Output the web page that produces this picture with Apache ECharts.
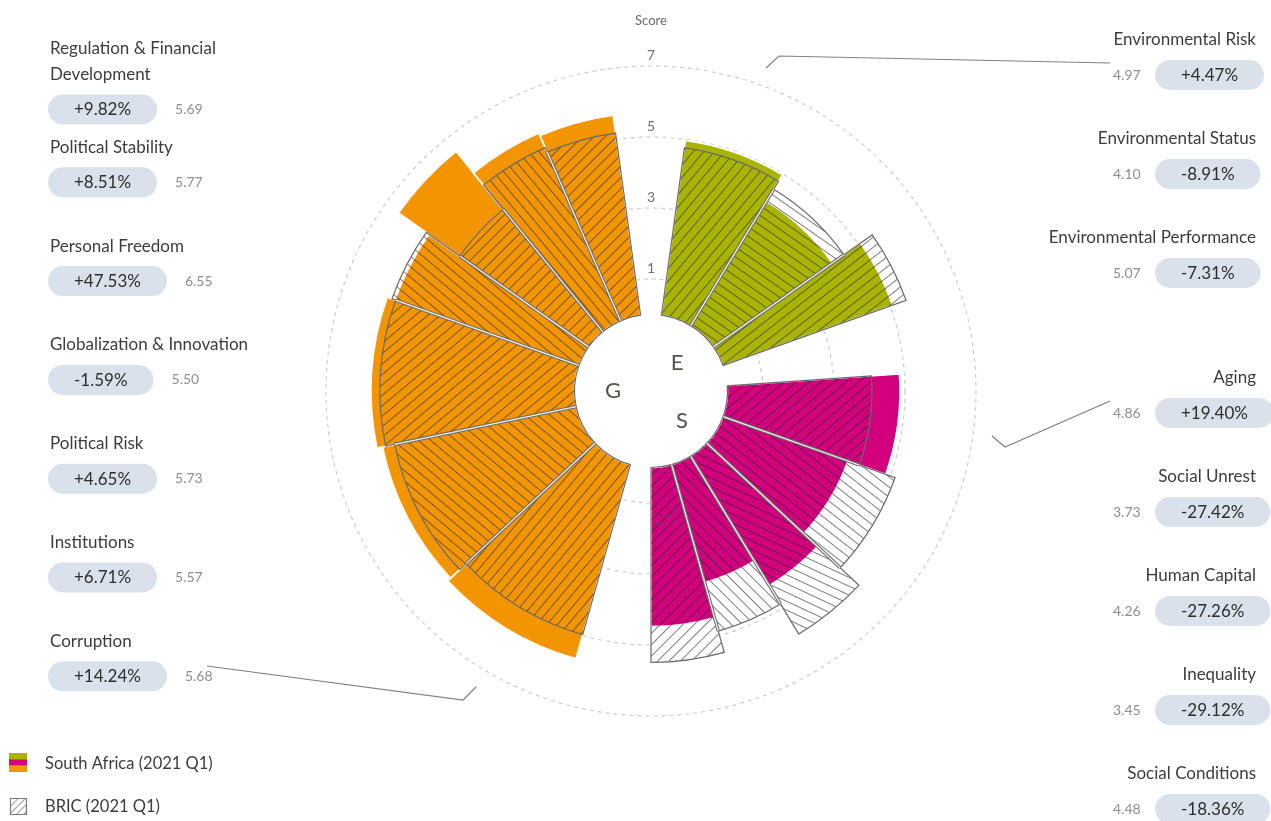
<!DOCTYPE html>
<html>
<head>
<meta charset="utf-8">
<title>ESG Scores – South Africa vs BRIC</title>
<script src="https://cdn.jsdelivr.net/npm/echarts@6.0.0/dist/echarts.min.js"></script>
<style>
  html, body { margin: 0; padding: 0; background: #ffffff; }
  #chart { width: 1271px; height: 821px; }
</style>
</head>
<body>
<div id="chart"></div>
<script>
// ---------- data ----------
const sectionKeys = ['E', 'S', 'G'];
const seriesNames = ['South Africa (2021 Q1)', 'BRIC (2021 Q1)'];

const envNames   = ['Environmental Risk', 'Environmental Status', 'Environmental Performance'];
const envWeights = [3, 3, 2];
const envScores  = [4.97, 4.10, 5.07];
const envBric    = [4.76, 4.50, 5.47];
const envChange  = [4.47, -8.91, -7.31];

const socNames   = ['Aging', 'Social Unrest', 'Human Capital', 'Inequality', 'Social Conditions'];
const socWeights = [3, 3, 2, 2, 2];
const socScores  = [4.86, 3.73, 4.26, 3.45, 4.48];
const socBric    = [4.07, 5.14, 5.86, 4.87, 5.49];
const socChange  = [19.40, -27.42, -27.26, -29.12, -18.36];

const govNames   = ['Regulation & Financial Development', 'Political Stability', 'Personal Freedom',
                    'Globalization & Innovation', 'Political Risk', 'Institutions', 'Corruption'];
const govWeights = [2, 2, 2, 2, 4, 4, 4];
const govScores  = [5.69, 5.77, 6.55, 5.50, 5.73, 5.57, 5.68];
const govBric    = [5.18, 5.32, 4.44, 5.59, 5.48, 5.22, 4.97];
const govChange  = [9.82, 8.51, 47.53, -1.59, 4.65, 6.71, 14.24];

const scoreMax = 7;
const radiusTicks = [1, 3, 5, 7];

// ---------- styles ----------
const FONT = 'Lato, "Noto Sans", sans-serif';
const sectionColors = ['#a9b400', '#d3007d', '#f39500'];
const envHatch = [50, -35, 38];
const socHatch = [40, -38, -25, -45, 45];
const govHatch = [45, -50, 45, -40, 40, -40, 50];
const TITLE_COLOR = '#3c3c3c';
const VALUE_COLOR = '#8e8e8e';
const BADGE_BG = '#d9e1ea';
const BRIC_STROKE = '#6a6a6a';
const RING_COLOR = '#cdcdcd';
const GAP_UNITS = 2;   // empty slot between E, S and G

// ---------- angular layout (weights -> slots) ----------
const sections = [
  { names: envNames, weights: envWeights, scores: envScores, bric: envBric, hatch: envHatch, reversed: false },
  { names: socNames, weights: socWeights, scores: socScores, bric: socBric, hatch: socHatch, reversed: false },
  { names: govNames, weights: govWeights, scores: govScores, bric: govBric, hatch: govHatch, reversed: true }
];

// row: [startSlot, endSlot, score, bric, sectionIndex, previousBric, hatchAngle]
const sectorRows = [];
let cursor = GAP_UNITS / 2;
sections.forEach((sec, si) => {
  const order = sec.names.map((_, i) => i);
  if (sec.reversed) order.reverse();
  let prev = 0;
  order.forEach(i => {
    const start = cursor;
    const end = cursor + sec.weights[i];
    sectorRows.push([start, end, sec.scores[i], sec.bric[i], si, prev, sec.hatch[i]]);
    prev = sec.bric[i];
    cursor = end;
  });
  cursor += GAP_UNITS;
});
const totalSlots = cursor - GAP_UNITS / 2;

// ---------- hatch patterns ----------
function makeTile(size, color) {
  const c = document.createElement('canvas');
  c.width = size; c.height = size;
  const g = c.getContext('2d');
  g.fillStyle = color;
  g.fillRect(0, Math.floor(size / 2), size, 1);
  return c;
}
const barTile = makeTile(8, 'rgba(45,45,45,0.62)');
const legendTile = makeTile(5, 'rgba(120,120,120,0.75)');
function hatchFill(deg, tile) {
  return { image: tile, repeat: 'repeat', rotation: -deg * Math.PI / 180 };
}

// ---------- helpers ----------
function sectorShape(params, api, value) {
  const a = api.coord([0, api.value(0)]);
  const b = api.coord([0, api.value(1)]);
  const t = api.coord([value, api.value(0)]);
  return {
    cx: params.coordSys.cx, cy: params.coordSys.cy,
    r0: a[2], r: t[2],
    startAngle: -a[3], endAngle: -b[3], clockwise: true
  };
}

function fmtChange(v) {
  return (v >= 0 ? '+' : '-') + Math.abs(v).toFixed(2) + '%';
}

const measureCtx = document.createElement('canvas').getContext('2d');
function textWidth(t, size) {
  measureCtx.font = size + 'px ' + FONT;
  return measureCtx.measureText(t).width;
}

function badgeText(x, y, change, score, side) {
  const b = '{b|' + fmtChange(change) + '}';
  const v = '{v|' + score.toFixed(2) + '}';
  const valueStyle = side === 'left'
    ? { fontSize: 14, fontFamily: FONT, fill: VALUE_COLOR, padding: [0, 0, 0, 18], verticalAlign: 'middle' }
    : { fontSize: 14, fontFamily: FONT, fill: VALUE_COLOR, width: 42, align: 'left', verticalAlign: 'middle' };
  return {
    type: 'text', x: x, y: y, z: 10,
    style: {
      text: side === 'left' ? b + v : v + b,
      align: 'left', verticalAlign: 'middle',
      rich: {
        b: { backgroundColor: BADGE_BG, borderRadius: 16.5, padding: [7, 26, 6, 26],
             fontSize: 17, fontFamily: FONT, fill: '#2e2e2e', lineHeight: 20, verticalAlign: 'middle' },
        v: valueStyle
      }
    }
  };
}

// ---------- side labels ----------
const graphics = [];

const LEFT = { titleX: 50, badgeX: 48, firstY: 48.5, step: 98.8, wrap: 215, lineH: 26, badgeDy: 35 };
govNames.forEach((name, i) => {
  const y = LEFT.firstY + LEFT.step * i;
  const lines = textWidth(name, 17) > LEFT.wrap ? 2 : 1;
  graphics.push({
    type: 'text', x: LEFT.titleX, y: y - LEFT.lineH / 2, z: 10,
    style: { text: name, width: LEFT.wrap, overflow: 'break', lineHeight: LEFT.lineH,
             fontSize: 17, fontFamily: FONT, fill: TITLE_COLOR, align: 'left', verticalAlign: 'top' }
  });
  graphics.push(badgeText(LEFT.badgeX, y + LEFT.badgeDy + LEFT.lineH * (lines - 1), govChange[i], govScores[i], 'left'));
});

const RIGHT = { titleX: 1256, valueX: 1113, step: 99, badgeDy: 35 };
[[envNames, envChange, envScores, 40], [socNames, socChange, socScores, 378]].forEach(([names, changes, scores, y0]) => {
  names.forEach((name, i) => {
    const y = y0 + RIGHT.step * i;
    graphics.push({
      type: 'text', x: RIGHT.titleX, y: y, z: 10,
      style: { text: name, fontSize: 17, fontFamily: FONT, fill: TITLE_COLOR, align: 'right', verticalAlign: 'middle' }
    });
    graphics.push(badgeText(RIGHT.valueX, y + RIGHT.badgeDy, changes[i], scores[i], 'right'));
  });
});

// callout lines from each label column to its section
[
  [[1110, 63], [779, 56], [766, 68]],
  [[1110, 401], [1005, 447], [992, 436]],
  [[207, 666], [463, 700], [476, 687]]
].forEach(pts => {
  graphics.push({ type: 'polyline', z: 5, shape: { points: pts },
                  style: { stroke: '#808080', lineWidth: 1.2, fill: null } });
});

// section letters in the hub
[['E', 677, 363], ['S', 682, 421], ['G', 613, 391]].forEach(([t, x, y]) => {
  graphics.push({ type: 'text', x: x, y: y, z: 10,
                  style: { text: t, fontSize: 22, fontFamily: FONT, fill: '#55504a', align: 'center', verticalAlign: 'middle' } });
});

// legend
graphics.push({ type: 'rect', z: 10, shape: { x: 9, y: 753, width: 18, height: 6.4 }, style: { fill: sectionColors[0] } });
graphics.push({ type: 'rect', z: 10, shape: { x: 9, y: 759.3, width: 18, height: 6.4 }, style: { fill: sectionColors[1] } });
graphics.push({ type: 'rect', z: 10, shape: { x: 9, y: 765.6, width: 18, height: 6.4 }, style: { fill: sectionColors[2] } });
graphics.push({ type: 'text', x: 45, y: 764, z: 10,
                style: { text: seriesNames[0], fontSize: 16.5, fontFamily: FONT, fill: TITLE_COLOR, align: 'left', verticalAlign: 'middle' } });
graphics.push({ type: 'rect', z: 10, shape: { x: 10.5, y: 798.5, width: 16, height: 16 },
                style: { fill: hatchFill(45, legendTile), stroke: '#7a7a7a', lineWidth: 1.2 } });
graphics.push({ type: 'text', x: 45, y: 807, z: 10,
                style: { text: seriesNames[1], fontSize: 16.5, fontFamily: FONT, fill: TITLE_COLOR, align: 'left', verticalAlign: 'middle' } });

// ---------- chart ----------
const ringColors = [0, 1, 2, 3, 4, 5, 6, 7].map(v => radiusTicks.includes(v) ? RING_COLOR : 'rgba(0,0,0,0)');

const chart = echarts.init(document.getElementById('chart'), null, { renderer: 'canvas' });
chart.setOption({
  animation: false,
  backgroundColor: '#ffffff',
  polar: { center: [651, 391], radius: [76.5, 325] },
  angleAxis: { type: 'value', min: 0, max: totalSlots, startAngle: 90, clockwise: true, show: false },
  radiusAxis: {
    type: 'value', min: 0, max: scoreMax, interval: 1,
    axisLine: { show: false }, axisTick: { show: false },
    axisLabel: {
      formatter: v => radiusTicks.includes(v) ? String(v) : '',
      color: '#707070', fontSize: 14, fontFamily: FONT,
      align: 'center', verticalAlign: 'bottom', margin: 0, padding: [0, 0, 4, 0],
      showMinLabel: false, showMaxLabel: true
    },
    splitLine: { show: true, lineStyle: { type: [4, 4], width: 1.2, color: ringColors } },
    name: 'Score', nameLocation: 'end', nameGap: 45,
    nameTextStyle: { color: '#6a6a6a', fontSize: 13, fontFamily: FONT, align: 'center', verticalAlign: 'middle' }
  },
  series: [
    {
      type: 'custom', name: seriesNames[0], coordinateSystem: 'polar', clip: false,
      data: sectorRows, encode: { radius: 2, angle: 0 },
      renderItem: function (params, api) {
        const sa = api.value(2), bric = api.value(3);
        return {
          type: 'group',
          children: [
            { type: 'sector', shape: sectorShape(params, api, Math.max(sa, bric)),
              style: { fill: '#ffffff', stroke: '#ffffff', lineWidth: 1.6 } },
            { type: 'sector', shape: sectorShape(params, api, sa),
              style: { fill: sectionColors[api.value(4)], stroke: '#ffffff', lineWidth: 1.6 } }
          ]
        };
      }
    },
    {
      type: 'custom', name: seriesNames[1], coordinateSystem: 'polar', clip: false,
      data: sectorRows, encode: { radius: 3, angle: 0 },
      renderItem: function (params, api) {
        const bric = api.value(3), prev = api.value(5);
        const children = [
          { type: 'sector', shape: sectorShape(params, api, bric),
            style: { fill: hatchFill(api.value(6), barTile), stroke: BRIC_STROKE, lineWidth: 1.2 } }
        ];
        if (prev > 0) {
          const p0 = api.coord([0, api.value(0)]);
          const p1 = api.coord([Math.min(prev, bric), api.value(0)]);
          const seg = { x1: p0[0], y1: p0[1], x2: p1[0], y2: p1[1] };
          children.push({ type: 'line', shape: seg, style: { stroke: BRIC_STROKE, lineWidth: 3.4 } });
          children.push({ type: 'line', shape: seg, style: { stroke: '#f0f0f0', lineWidth: 1.3 } });
        }
        return { type: 'group', children: children };
      }
    }
  ],
  graphic: { elements: graphics }
});
</script>
</body>
</html>
